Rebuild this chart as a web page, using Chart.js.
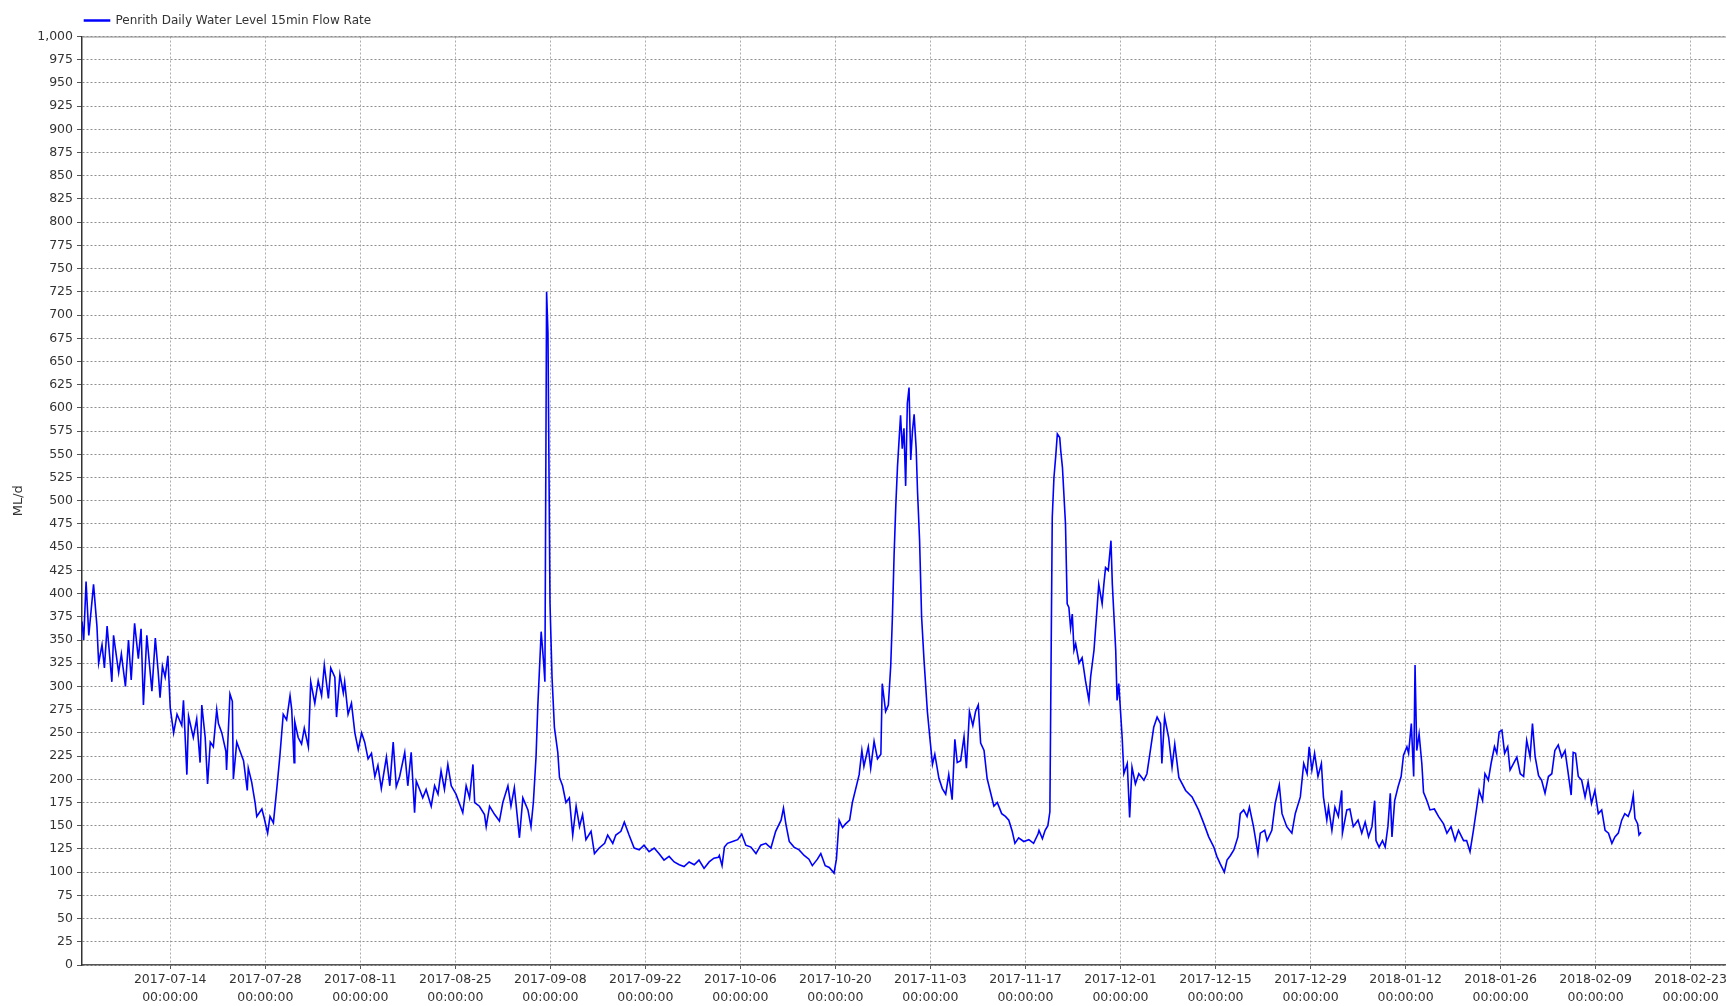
<!DOCTYPE html>
<html>
<head>
<meta charset="utf-8">
<script src="https://cdn.jsdelivr.net/npm/chart.js@4/dist/chart.umd.min.js"></script>
<style>
html,body{margin:0;padding:0;background:#ffffff;}
#wrap{width:1729px;height:1006px;position:relative;}
</style>
</head>
<body>
<div id="wrap"><canvas id="c"></canvas></div>
<script>
// ---- data ----
const seriesLabel = 'Penrith Daily Water Level 15min Flow Rate';
const yAxisTitle = 'ML/d';
const startDate = '2017-07-01';           // day 0 of dayOffsets
const endDate = '2018-02-28';             // right end of the time axis
const tickDates = ['2017-07-14','2017-07-28','2017-08-11','2017-08-25','2017-09-08','2017-09-22',
  '2017-10-06','2017-10-20','2017-11-03','2017-11-17','2017-12-01','2017-12-15','2017-12-29',
  '2018-01-12','2018-01-26','2018-02-09','2018-02-23'];
const tickTime = '00:00:00';
const yMin = 0, yMax = 1000, yStep = 25;

// days since 2017-07-01 00:00
const dayOffsets = [
  0, 0.25, 0.6, 1.0, 1.7, 2.2, 2.45, 2.95, 3.3, 3.7,
  4.4, 4.65, 5.4, 5.8, 6.4, 6.85, 7.25, 7.75, 8.3, 8.7,
  9.05, 9.55, 10.3, 10.8, 11.2, 11.5, 11.85, 12.25, 12.65, 13.0,
  13.5, 14.0, 14.7, 14.95, 15.45, 15.7, 16.4, 16.9, 17.4, 17.65,
  18.15, 18.5, 18.9, 19.35, 19.85, 20.1, 20.6, 21.2, 21.3, 21.8,
  22.15, 22.3, 22.8, 23.3, 23.8, 24.35, 24.5, 25.0, 25.5, 25.75,
  26.5, 26.85, 27.35, 27.7, 28.2, 28.7, 29.15, 29.65, 30.15, 30.65,
  30.9, 31.25, 31.35, 31.85, 32.35, 32.75, 33.35, 33.7, 34.3, 34.8,
  35.3, 35.7, 36.3, 36.65, 37.25, 37.5, 38.0, 38.5, 38.7, 39.2,
  39.7, 40.2, 40.7, 41.2, 41.65, 42.15, 42.65, 43.15, 43.6, 44.1,
  44.85, 45.35, 45.85, 46.3, 46.8,
  47.55, 48.0, 48.5, 49.0, 49.25, 49.75, 50.2, 50.7, 51.45, 51.95,
  52.45, 52.9, 53.4, 53.9, 54.4, 55.1, 56.1, 56.6, 57.1, 57.6,
  57.85, 58.55, 59.3, 59.55, 60.05, 60.8, 61.5, 62.0, 62.75, 63.2,
  63.7, 64.45, 64.95, 65.7, 66.15, 66.5, 66.9, 67.15, 67.65, 68.0,
  68.2, 68.45, 68.65, 68.95, 69.25, 69.6, 70.1, 70.35, 70.8, 71.3,
  71.8, 72.3, 72.8, 73.3, 73.75, 74.25, 75.0, 75.5, 76.2, 77.0,
  77.45, 78.2, 78.65, 79.4, 79.9, 80.6, 81.35, 82.1, 82.8, 83.55,
  84.3, 85.0, 85.75, 86.5, 87.25, 88.0, 88.7, 89.45, 90.2, 90.9,
  91.65, 92.4, 93.1, 93.75,
  93.9, 94.3, 94.65, 95.1, 95.85, 96.6, 97.2, 97.8, 98.55, 99.3,
  100.0, 100.75, 101.5, 102.2, 103.0, 103.35, 103.7, 104.2, 104.9, 105.65,
  106.4, 107.1, 107.6, 108.35, 108.85, 109.5, 110.1, 110.8, 111.15, 111.55,
  112.05, 112.5, 113.1, 113.5, 114.0, 114.5, 114.9, 115.2, 115.85, 116.2,
  116.7, 117.2, 117.7, 117.9, 118.4, 118.8, 119.15, 119.4, 119.65, 119.9,
  120.15, 120.6, 120.85, 121.1, 121.35, 121.6, 121.85, 122.1, 122.35, 122.6,
  122.9, 123.1, 123.4, 123.7, 124.05, 124.55, 124.9, 125.3, 125.65, 126.25,
  126.75, 127.25, 127.7, 128.2, 128.6, 128.95, 129.45, 129.95, 130.3, 130.75,
  131.25, 131.65, 132.05, 132.4, 132.9, 133.35, 133.85, 134.35, 134.85, 135.5,
  136.05, 136.55, 137.05, 137.45, 138.0, 138.75, 139.5, 140.2, 140.85,
  141.0, 141.5, 141.9, 142.3, 142.6, 142.8, 142.95, 143.2, 143.45, 143.7,
  144.05, 144.2, 144.45, 144.9, 145.15, 145.4, 145.65, 145.9, 146.15, 146.4,
  146.9, 147.35, 147.85, 148.35, 148.6, 149.1, 149.6, 149.8, 150.3, 150.55,
  150.8, 151.2, 151.6, 151.8, 152.3, 152.5, 152.75, 153.25, 153.5, 154.0,
  154.35, 154.7, 155.2, 155.7, 156.45, 156.9, 157.4, 157.9, 158.4, 158.9,
  159.1, 159.5, 160.1, 160.6, 161.0, 161.6, 162.6, 163.55, 164.5, 165.3,
  166.0, 166.75,
  167.2, 167.7, 168.3, 168.7, 169.2, 169.7, 170.3, 170.65, 171.15, 171.65,
  172.0, 172.6, 173.25, 173.6, 174.25, 174.6, 175.3, 175.8, 176.4, 176.8,
  177.5, 178.25, 178.75, 179.5, 180.0, 180.5, 180.8, 181.2, 181.6, 182.1,
  182.6, 182.9, 183.4, 183.65, 184.15, 184.6, 185.1, 185.6, 185.7, 186.35,
  186.8, 187.3, 188.0,
  188.55, 189.05, 189.55, 190.05, 190.45, 190.65, 191.1, 191.6, 192.0, 192.4,
  192.75, 193.0, 193.4, 193.9, 194.35, 194.7, 195.2, 195.45, 195.85, 196.2,
  196.4, 196.65, 197.0, 197.4, 197.65, 198.15, 198.6, 199.25, 199.85, 200.6,
  201.1, 201.7, 202.3, 202.8, 203.55, 204.0, 204.5, 205.0, 205.5, 205.85,
  206.35, 206.7, 207.2, 207.6, 208.1, 208.45, 208.8, 209.2, 209.6, 210.05,
  210.4, 210.9, 211.4, 211.9, 212.4, 212.85, 213.35, 213.7, 214.1, 214.6,
  215.05, 215.55, 216.05, 216.55, 217.0, 217.5, 218.0, 218.5, 218.9, 219.4,
  219.7, 220.05, 220.45, 220.95, 221.45, 221.9, 222.4, 222.9, 223.4, 223.9,
  224.4, 224.9, 225.4, 225.85, 226.35, 226.85, 227.3, 227.8, 228.2, 228.55,
  228.8, 229.2, 229.4, 229.7
];

// flow rate, ML/d
const flowValues = [
  370, 350, 413, 355, 410, 365, 325, 345, 320, 365,
  305, 355, 315, 335, 300, 350, 307, 368, 330, 362,
  280, 355, 295, 352, 318, 288, 322, 310, 333, 277,
  250, 270, 258, 285, 205, 268, 245, 265, 218, 280,
  245, 195, 240, 235, 275, 260, 250, 230, 210, 292,
  284, 200, 240, 230, 220, 188, 212, 197, 175, 160,
  168, 158, 142, 160, 153, 190, 225, 270, 264, 290,
  275, 218, 262, 245, 238, 255, 235, 305, 282, 306,
  290, 323, 287, 320, 310, 267, 313, 293, 305, 270,
  282, 250, 232, 250, 240, 222, 228, 203, 215, 190,
  224, 193, 240, 192, 203,
  229, 193, 229, 164, 198, 189, 180, 189, 171, 193,
  184, 209, 189, 216, 193, 184, 164, 193, 180, 216,
  175, 171, 162, 149, 171, 162, 155, 175, 193, 171,
  191, 137, 180, 167, 149, 175, 225, 278, 359, 327,
  305, 725, 681, 390, 310, 256, 229, 202, 193, 175,
  180, 140, 171, 149, 162, 135, 144, 120, 126, 131,
  140, 131, 140, 144, 154, 140, 126, 124, 129, 122,
  126, 120, 113, 117, 111, 108, 106, 111, 108, 113,
  104, 111, 115, 116,
  118, 107, 127, 131, 133, 135, 141, 129, 127, 120,
  129, 131, 126, 144, 156, 169, 152, 133, 127, 124,
  118, 114, 107, 114, 120, 107, 105, 99, 114, 156,
  148, 152, 156, 175, 190, 205, 231, 214, 235, 212,
  241, 222, 227, 303, 273, 280, 322, 375, 442, 495,
  537, 592, 556, 578, 516, 605, 622, 544, 575, 593,
  556, 510, 458, 375, 329, 273, 246, 216, 227, 201,
  190, 184, 205, 178, 243, 218, 220, 246, 212, 273,
  258, 273, 280, 239, 231, 201, 186, 171, 175, 163,
  160, 156, 144, 131, 137, 133, 135, 131, 141,
  145, 136, 145, 150, 165, 349, 482, 525, 547, 572,
  568, 554, 536, 475, 389, 385, 363, 378, 339, 346,
  325, 331, 306, 285, 310, 339, 389, 410, 389, 410,
  428, 425, 457, 410, 339, 285, 303, 245, 206, 217,
  159, 213, 195, 206, 199, 206, 231, 256, 267, 260,
  217, 267, 245, 213, 238, 202, 188, 181, 167, 152,
  138, 127,
  117, 109, 100, 113, 118, 124, 138, 163, 167, 160,
  170, 149, 120, 142, 145, 134, 145, 174, 194, 163,
  149, 142, 163, 181, 217, 206, 235, 210, 228, 203,
  217, 181, 156, 170, 145, 170, 160, 188, 142, 167,
  168, 149, 156,
  142, 154, 138, 149, 177, 134, 127, 134, 127, 149,
  185, 138, 177, 192, 203, 226, 235, 228, 260, 203,
  323, 231, 249, 217, 186, 177, 167, 168, 160, 152,
  142, 149, 134, 145, 134, 134, 122, 145, 170, 188,
  177, 206, 199, 217, 235, 228, 251, 253, 228, 235,
  210, 217, 224, 206, 203, 242, 224, 260, 224, 204,
  199, 185, 203, 206, 231, 237, 224, 231, 210, 183,
  229, 228, 203, 199, 181, 197, 174, 188, 163, 167,
  145, 142, 131, 138, 142, 156, 163, 160, 168, 183,
  158, 152, 140, 143
];

// ---- helpers ----
function dayOf(iso) {
  const p = iso.split('-').map(Number);
  const s = startDate.split('-').map(Number);
  return (Date.UTC(p[0], p[1] - 1, p[2]) - Date.UTC(s[0], s[1] - 1, s[2])) / 86400000;
}
const points = dayOffsets.map((d, i) => ({ x: d, y: flowValues[i] }));

const FONT = 'DejaVu Sans';
const TXT = '#333333';

const framePlugin = {
  id: 'frameTop',
  afterLayout(chart) {
    // pull the legend slightly left so it sits just inside the plot's left edge
    if (chart.legend) chart.legend.left -= 6;
  },
  afterDatasetsDraw(chart) {
    const a = chart.chartArea, ctx = chart.ctx;
    ctx.save();
    ctx.strokeStyle = '#8c8c8c';
    ctx.lineWidth = 1;
    ctx.beginPath();
    ctx.moveTo(a.left, a.top + 0.5);
    ctx.lineTo(a.right, a.top + 0.5);
    ctx.stroke();
    ctx.restore();
  }
};

new Chart(document.getElementById('c'), {
  type: 'line',
  data: {
    datasets: [{
      label: seriesLabel,
      data: points,
      borderColor: '#0000ff',
      backgroundColor: '#0000ff',
      borderWidth: 1.6,
      pointRadius: 0,
      tension: 0,
      fill: false
    }]
  },
  options: {
    responsive: true,
    maintainAspectRatio: false,
    animation: false,
    layout: { padding: { top: 6, right: 1, left: 0, bottom: 0 } },
    plugins: {
      legend: {
        display: true,
        position: 'top',
        align: 'start',
        fullSize: false,
        labels: {
          boxWidth: 25,
          boxHeight: 1,
          padding: 8.5,
          color: TXT,
          font: { family: FONT, size: 12 }
        }
      },
      tooltip: { enabled: false }
    },
    scales: {
      x: {
        type: 'linear',
        min: 0,
        max: dayOf(endDate) + 0.2,
        afterBuildTicks(axis) {
          axis.ticks = tickDates.map(s => ({ value: dayOf(s) }));
        },
        afterFit(scale) { scale.height = 41; },
        ticks: {
          autoSkip: false,
          maxRotation: 0,
          padding: 2,
          color: TXT,
          font: { family: FONT, size: 12.5, lineHeight: 1.4 },
          callback(value, index) { return [tickDates[index], tickTime]; }
        },
        grid: {
          color: '#ababab',
          lineWidth: 1,
          tickLength: 4,
          tickColor: '#555555',
          tickBorderDash: [],
          drawTicks: true
        },
        border: { display: true, color: '#555555', width: 1.5, dash: [2, 2] }
      },
      y: {
        type: 'linear',
        min: yMin,
        max: yMax,
        afterFit(scale) { scale.width = 82; },
        ticks: {
          stepSize: yStep,
          autoSkip: false,
          padding: 4,
          color: TXT,
          font: { family: FONT, size: 12.5 },
          callback(v) { return Number(v).toLocaleString('en-US'); }
        },
        grid: {
          color: '#8f8f8f',
          lineWidth: 1,
          tickLength: 5,
          tickColor: '#555555',
          tickBorderDash: [],
          drawTicks: true
        },
        border: { display: true, color: '#333333', width: 1.5, dash: [2, 2] },
        title: {
          display: true,
          text: yAxisTitle,
          color: TXT,
          font: { family: FONT, size: 13 },
          padding: { top: 11, bottom: 0 }
        }
      }
    }
  },
  plugins: [framePlugin]
});
</script>
</body>
</html>
